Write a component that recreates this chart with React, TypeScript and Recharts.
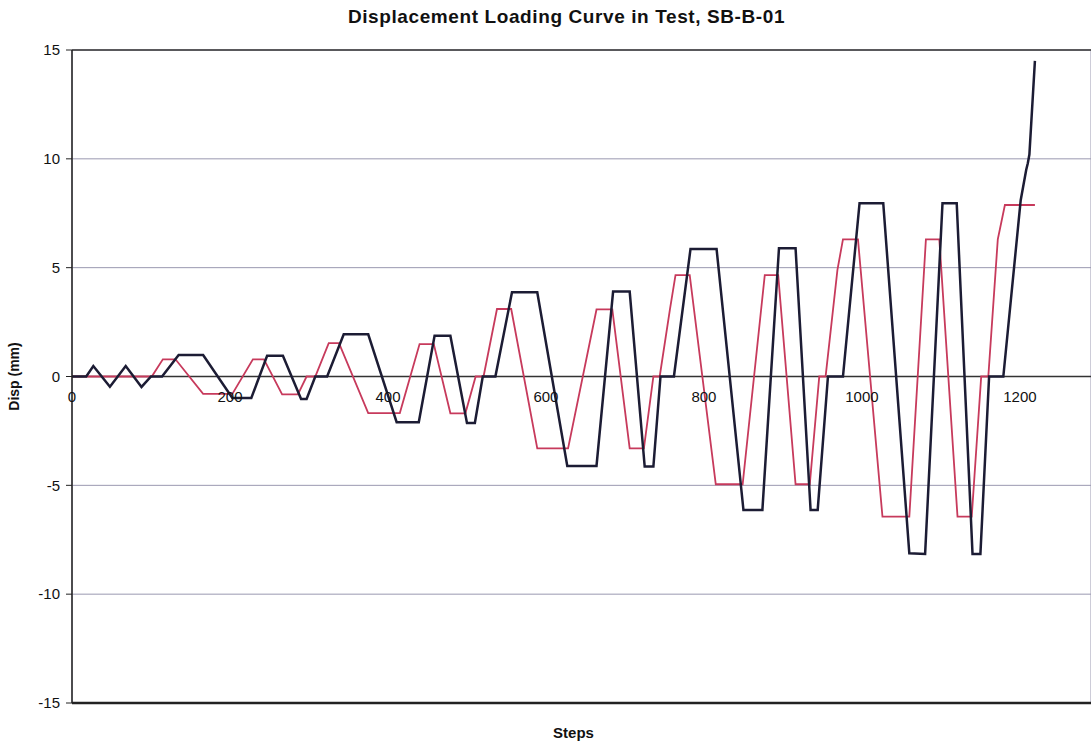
import React from "react";
import {
  LineChart,
  Line,
  XAxis,
  YAxis,
  CartesianGrid,
  ReferenceLine,
  ReferenceDot,
} from "recharts";

// black trace: commanded displacement (steps vs mm)
const blackSteps = [
  0, 18, 27, 48, 68, 88, 100, 114, 135, 166, 203, 227, 247, 267, 290, 297, 308, 323, 344, 375,
  411, 439, 459, 479, 500, 510, 520, 536, 557, 589, 627, 664, 685, 706, 725, 736, 745, 762,
  783, 816, 850, 874, 895, 916, 935, 944, 957, 976, 997, 1027, 1060, 1080, 1102, 1120, 1140,
  1150, 1161, 1179, 1201, 1208, 1210, 1212, 1219,
];
const blackDisp = [
  0, 0, 0.48, -0.47, 0.48, -0.48, 0, 0, 0.99, 0.99, -0.99, -0.99, 0.95, 0.95, -1.03, -1.03, 0, 0,
  1.94, 1.94, -2.1, -2.1, 1.87, 1.87, -2.14, -2.14, 0, 0, 3.87, 3.87, -4.11, -4.11, 3.9, 3.9,
  -4.14, -4.14, 0, 0, 5.86, 5.86, -6.13, -6.13, 5.89, 5.89, -6.13, -6.13, 0, 0, 7.96, 7.96,
  -8.12, -8.15, 7.96, 7.96, -8.15, -8.15, 0, 0, 8.1, 9.5, 9.8, 10.2, 14.5,
];

// red trace: measured displacement
const redSteps = [
  0, 101, 115, 131, 166, 203, 229, 243, 266, 286, 297, 308, 325, 338, 375, 415, 440, 458, 479,
  498, 511, 521, 538, 556, 589, 628, 664, 684, 706, 724, 736, 744, 757, 764, 782, 815, 849,
  877, 894, 916, 934, 946, 954, 969, 976, 995, 1026, 1060, 1081, 1098, 1121, 1139, 1151, 1160,
  1172, 1181, 1219,
];
const redDisp = [
  0, 0, 0.79, 0.79, -0.8, -0.8, 0.79, 0.79, -0.82, -0.82, 0, 0, 1.53, 1.53, -1.68, -1.68, 1.49,
  1.49, -1.69, -1.69, 0, 0, 3.1, 3.1, -3.3, -3.3, 3.08, 3.08, -3.3, -3.3, 0, 0, 3.1, 4.66, 4.66,
  -4.95, -4.95, 4.66, 4.66, -4.95, -4.95, 0, 0, 4.9, 6.3, 6.3, -6.44, -6.44, 6.3, 6.3, -6.44,
  -6.44, 0, 0, 6.3, 7.88, 7.88,
];

const xTicks = [0, 200, 400, 600, 800, 1000, 1200];
const yTicks = [-15, -10, -5, 0, 5, 10, 15];

const blackData = blackSteps.map((s, i) => ({ step: s, disp: blackDisp[i] }));
const redData = redSteps.map((s, i) => ({ step: s, disp: redDisp[i] }));

const font = "'Liberation Sans', Arial, sans-serif";

export default function App() {
  return (
    <div style={{ position: "absolute", left: 0, top: 0, width: 1091, height: 748, background: "#fff", fontFamily: font }}>
      <div
        style={{
          position: "absolute",
          top: 6,
          left: 21,
          width: 1091,
          textAlign: "center",
          fontWeight: "bold",
          fontSize: 19,
          letterSpacing: 0.6,
          color: "#111",
        }}
      >
        Displacement Loading Curve in Test, SB-B-01
      </div>
      <LineChart width={1091} height={748} margin={{ top: 50, right: 0, bottom: 0, left: 0 }}>
        <CartesianGrid stroke="#9a98b0" strokeWidth={1} />
        <XAxis
          dataKey="step"
          type="number"
          domain={[0, 1290]}
          ticks={xTicks}
          tick={false}
          tickLine={false}
          height={45}
          axisLine={{ stroke: "#222", strokeWidth: 2.5 }}
          allowDataOverflow
          label={{ value: "Steps", position: "insideBottom", offset: 10, dx: -8, fontSize: 15, fontWeight: "bold", fill: "#111" }}
        />
        <YAxis
          type="number"
          domain={[-15, 15]}
          ticks={yTicks}
          width={72}
          tick={{ fill: "#111", fontSize: 15, dx: -4 }}
          tickSize={6}
          tickLine={{ stroke: "#222" }}
          axisLine={{ stroke: "#222", strokeWidth: 1.5 }}
          label={{ value: "Disp (mm)", angle: -90, position: "insideLeft", offset: 14, fontSize: 14, fontWeight: "bold", fill: "#111", style: { textAnchor: "middle" } }}
        />
        <ReferenceLine y={15} stroke="#333" strokeWidth={1.5} />
        <ReferenceLine y={0} stroke="#333" strokeWidth={1.5} />
        {xTicks.map((t) => (
          <ReferenceDot
            key={t}
            x={t}
            y={0}
            r={0}
            fill="none"
            stroke="none"
            label={{ value: String(t), position: "bottom", offset: 15, fontSize: 15, fill: "#111" }}
          />
        ))}
        <Line
          data={redData}
          dataKey="disp"
          type="linear"
          stroke="#c73a5c"
          strokeWidth={1.8}
          dot={false}
          isAnimationActive={false}
        />
        <Line
          data={blackData}
          dataKey="disp"
          type="linear"
          stroke="#1c1c34"
          strokeWidth={2.5}
          dot={false}
          isAnimationActive={false}
        />
      </LineChart>
    </div>
  );
}
